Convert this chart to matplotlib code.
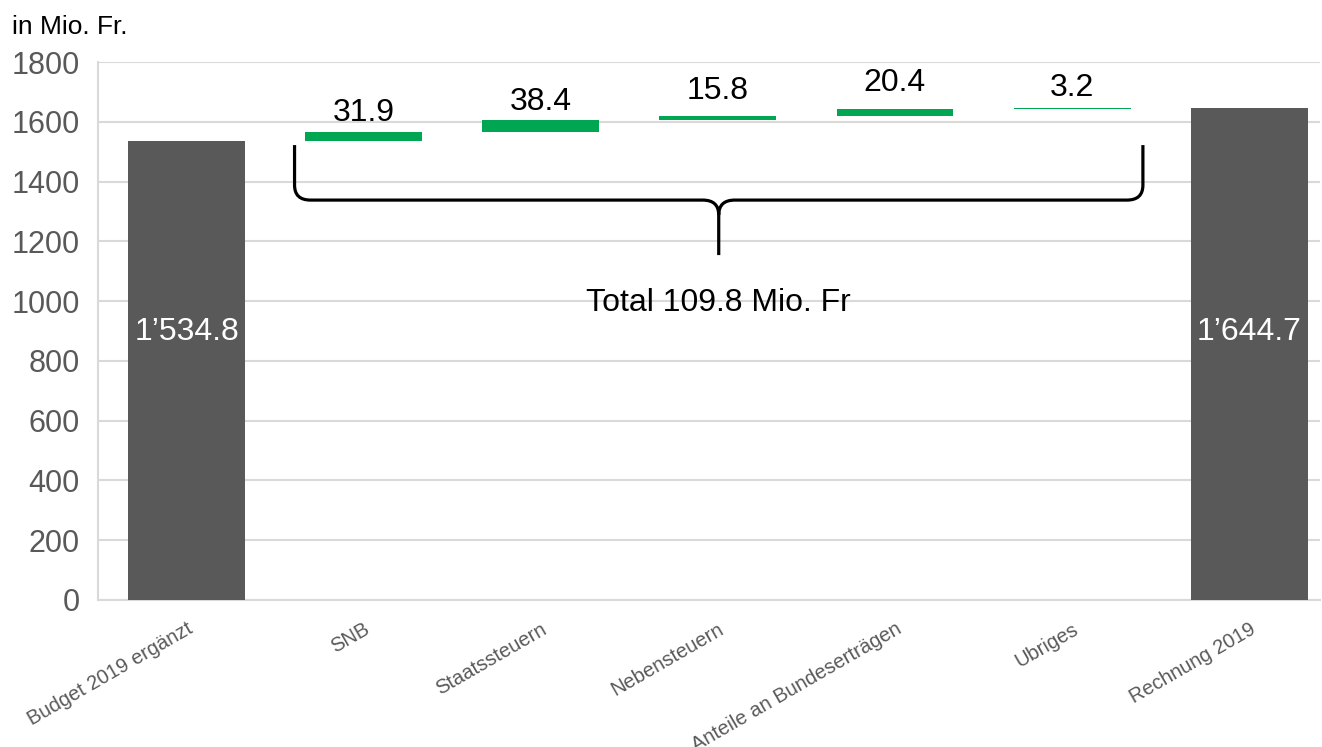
import numpy as np
import matplotlib
matplotlib.use('Agg')
import matplotlib.pyplot as plt
from matplotlib.path import Path
from matplotlib.patches import PathPatch

plt.rcParams['font.family'] = ['Liberation Sans', 'DejaVu Sans']

# data
categories = ['Budget 2019 ergänzt', 'SNB', 'Staatssteuern', 'Nebensteuern',
              'Anteile an Bundeserträgen', 'Ubriges', 'Rechnung 2019']
start_value = 1534.8
deltas = [31.9, 38.4, 15.8, 20.4, 3.2]
end_value = 1644.7
total_change = 109.8   # as printed on the chart
yticks = [0, 200, 400, 600, 800, 1000, 1200, 1400, 1600, 1800]

grey = '#595959'
green = '#00a651'
label_offsets = [3, 2, 7, 8, 4]   # label gap above each green bar, points

fig = plt.figure(figsize=(13.22, 7.47), dpi=100)
ax = fig.add_axes([0.0741, 0.1968, 0.9244, 0.7202])

x = np.arange(len(categories))
w = 0.66

# total bars
ax.bar([x[0], x[-1]], [start_value, end_value], width=w, color=grey, zorder=3)
for xi, v in [(x[0], start_value), (x[-1], end_value)]:
    ax.text(xi, 898, f"{v:,.1f}".replace(',', '\u2019'), color='white',
            fontsize=23, ha='center', va='center', zorder=4)

# increments
bottoms = start_value + np.concatenate([[0], np.cumsum(deltas)[:-1]])
ax.bar(x[1:-1], deltas, bottom=bottoms, width=w, color=green, zorder=3)
for xi, b, d, off in zip(x[1:-1], bottoms, deltas, label_offsets):
    ax.annotate(f"{d:.1f}", (xi, b + d), xytext=(0, off), textcoords='offset points',
                ha='center', va='bottom', fontsize=23, color='black')

# brace over the increments
x0, x1 = x[1] - 0.39, x[-2] + 0.40
xm = (x0 + x1) / 2
ytop, ymid, ytip = 1522, 1338, 1154
dx, dy = 0.09, 50
verts = [(x0, ytop), (x0, ymid + dy), (x0, ymid), (x0 + dx, ymid),
         (xm - dx, ymid), (xm, ymid), (xm, ymid - dy), (xm, ytip),
         (xm, ymid - dy), (xm, ymid), (xm + dx, ymid), (x1 - dx, ymid),
         (x1, ymid), (x1, ymid + dy), (x1, ytop)]
codes = [Path.MOVETO, Path.LINETO, Path.CURVE3, Path.CURVE3,
         Path.LINETO, Path.CURVE3, Path.CURVE3, Path.LINETO,
         Path.MOVETO, Path.CURVE3, Path.CURVE3, Path.LINETO,
         Path.CURVE3, Path.CURVE3, Path.LINETO]
ax.add_patch(PathPatch(Path(verts, codes), fill=False, lw=2.3, color='black', zorder=5))
ax.text(xm, 995, f"Total {total_change:.1f} Mio. Fr", fontsize=23,
        ha='center', va='center', color='black')

ax.set_xlim(-0.5, 6.40)
ax.set_ylim(0, 1800)
ax.set_yticks(yticks)
ax.set_yticklabels([str(t) for t in yticks], fontsize=22, color=grey)
ax.set_xticks(x)
ax.set_xticklabels(categories, rotation=30, ha='right', rotation_mode='anchor',
                   fontsize=14.5, color=grey)
ax.tick_params(axis='y', length=0, pad=13)
ax.tick_params(axis='x', length=0, pad=14)
ax.grid(axis='y', color='#d9d9d9', lw=1.5, zorder=0)
for s in ['top', 'right']:
    ax.spines[s].set_visible(False)
for s in ['left', 'bottom']:
    ax.spines[s].set_color('#d9d9d9')
    ax.spines[s].set_linewidth(1.5)

fig.text(12 / 1322, 1 - 27 / 747, 'in Mio. Fr.', fontsize=19, va='center', ha='left')

plt.savefig('out.png', dpi=100)
